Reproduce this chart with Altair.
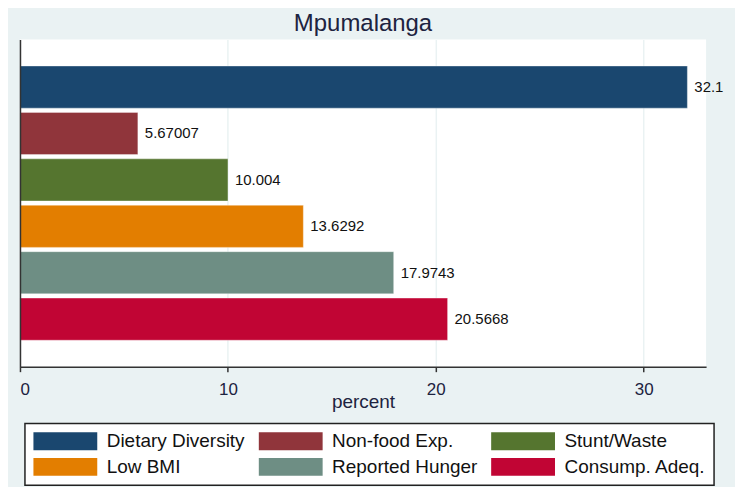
import altair as alt
import pandas as pd

categories = ["Dietary Diversity", "Non-food Exp.", "Stunt/Waste",
              "Low BMI", "Reported Hunger", "Consump. Adeq."]
values = [32.1, 5.67007, 10.004, 13.6292, 17.9743, 20.5668]
colors = ["#1A476F", "#90353B", "#55752F", "#E37E00", "#6E8E84", "#C10534"]
ticks = [0, 10, 20, 30]

df = pd.DataFrame({"category": categories, "value": values})

# legend fills column by column: reorder so rows read like the reference
legend_order = [0, 3, 1, 4, 2, 5]
leg_domain = [categories[i] for i in legend_order]
leg_range = [colors[i] for i in legend_order]

FONT = "Liberation Sans"
TXT = "#1d2340"

y_enc = alt.Y("category:N", sort=categories,
              scale=alt.Scale(paddingInner=0.093, paddingOuter=0.57),
              axis=alt.Axis(labels=False, ticks=False, title=None, domain=True,
                            domainColor="#333333", domainWidth=1.5, grid=False, zindex=1))
x_enc = alt.X("value:Q", scale=alt.Scale(domain=[0, 33], nice=False, zero=True),
              axis=alt.Axis(values=ticks, title="percent", format="d",
                            domainColor="#333333", domainWidth=1.5,
                            tickColor="#333333", tickSize=5, tickWidth=1.5,
                            labelFont=FONT, labelFontSize=17, labelColor=TXT, labelPadding=10,
                            titleFont=FONT, titleFontSize=19, titleFontWeight="normal",
                            titleColor=TXT, titleY=41, titleBaseline="alphabetic",
                            grid=True, gridColor="#EAF2F3", gridWidth=1.5, zindex=0))

base = alt.Chart(df)
bars = base.mark_bar(stroke="white", strokeOpacity=0.35, strokeWidth=1).encode(
    y=y_enc, x=x_enc,
    color=alt.Color("category:N",
                    scale=alt.Scale(domain=leg_domain, range=leg_range),
                    legend=alt.Legend(title=None, orient="none", legendX=5, legendY=385,
                                      columns=3,
                                      symbolType="M-1,-1H6.1111V1H-1Z",
                                      symbolSize=324, symbolStrokeWidth=0, symbolOpacity=1,
                                      labelFont=FONT, labelFontSize=19, labelColor="#111111",
                                      labelOffset=55, labelLimit=220,
                                      columnPadding=13, rowPadding=6, padding=8,
                                      strokeColor="#222222", fillColor="white")))
labels = base.mark_text(align="left", baseline="middle", dx=7, font=FONT,
                        fontSize=15, color="#111111").encode(
    y=alt.Y("category:N", sort=categories), x=alt.X("value:Q"),
    text=alt.Text("value:Q", format=".6~g"))

chart = (bars + labels).properties(
    width=688, height=328,
    title=alt.TitleParams(text="Mpumalanga", font=FONT, fontSize=24, fontWeight="normal",
                          color=TXT, anchor="middle", frame="group", offset=4),
    autosize=alt.AutoSizeParams(type="none"),
    padding={"left": 12, "top": 31, "right": 29, "bottom": 120},
).configure(background="#EAF2F3").configure_view(fill="white", strokeWidth=0
).configure_legend(strokeWidth=1.5)

chart.save("out.html", embed_options={"renderer": "svg", "actions": False})
